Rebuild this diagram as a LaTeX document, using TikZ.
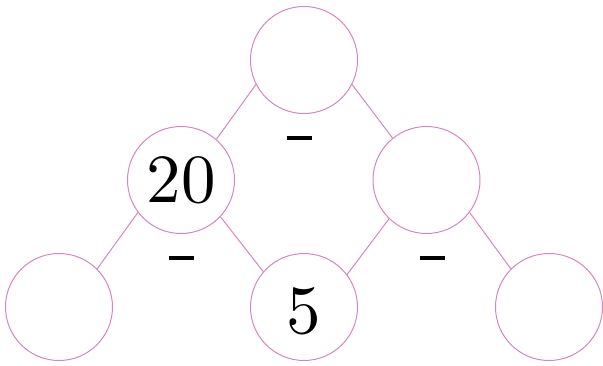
\documentclass[tikz,border=0pt]{standalone}
\usepackage{fontspec}
\newfontfamily\numfont{lmroman10-regular.otf}
\definecolor{pinkline}{RGB}{212,135,188}
\tikzset{
  bubble/.style={circle, draw=pinkline, line width=1pt, minimum size=107pt, inner sep=0pt, font=\numfont\fontsize{69}{72}\selectfont},
  numtext/.style={inner sep=0pt, font=\numfont\fontsize{69}{72}\selectfont},
  link/.style={draw=pinkline, line width=1pt},
  minussign/.style={inner sep=0pt}
}
\begin{document}
\begin{tikzpicture}[x=1pt,y=-1pt]
\useasboundingbox (0,0) rectangle (603,365);
\node[bubble] (t) at (304,60) {};
\node[bubble] (ml) at (181,180) {};
\node[numtext] (twenty) at (181,180) {20};
\node[bubble] (mr) at (426.5,180) {};
\node[bubble] (bl) at (59,307) {};
\node[bubble] (bm) at (304,307) {};
\node[numtext] (five) at (304,311) {5};
\node[bubble] (br) at (549,307) {};
\draw[link] (t.207.5) -- (ml.49.4);
\draw[link] (t.-27.5) -- (mr.129.4);
\draw[link] (ml.217.7) -- (bl.45.7);
\draw[link] (ml.-43) -- (bm.139.5);
\draw[link] (mr.226) -- (bm.37);
\draw[link] (mr.-37.6) -- (br.135.7);
\node[minussign] (m1) at (299,138) {\rule{25pt}{3.5pt}};
\node[minussign] (m2) at (181,258) {\rule{25pt}{3.5pt}};
\node[minussign] (m3) at (432,258) {\rule{25pt}{3.5pt}};
\end{tikzpicture}
\end{document}
